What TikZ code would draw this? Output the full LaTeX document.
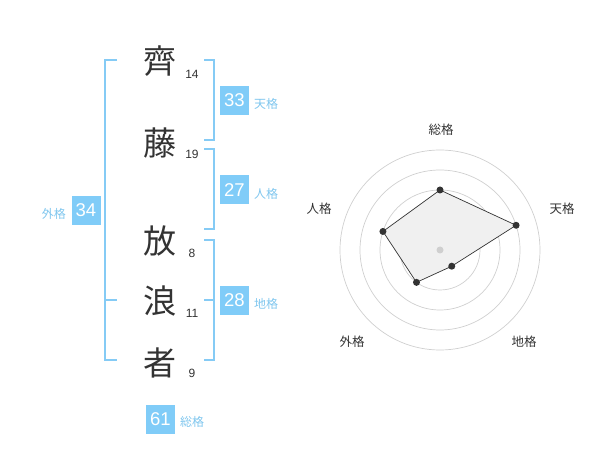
\documentclass[tikz,border=0pt]{standalone}
\usepackage{fontspec}
\setmainfont{Liberation Sans}
\newfontfamily\jp{Noto Sans CJK JP}
\definecolor{boxblue}{HTML}{80CCF8}
\definecolor{lblblue}{HTML}{7FC6EE}
\definecolor{brk}{HTML}{85CBF5}
\definecolor{ink}{HTML}{333333}
\definecolor{ring}{HTML}{CFCFCF}
\definecolor{area}{HTML}{F0F0F0}
\begin{document}
\begin{tikzpicture}[x=1pt,y=-1pt,
  kanji/.style={font=\jp\fontsize{33}{33}\selectfont, text=ink, inner sep=0pt},
  stroke/.style={font=\fontsize{12}{12}\selectfont, text=ink, inner sep=0pt},
  valbox/.style={fill=boxblue, text=white, minimum width=29pt, minimum height=29pt, inner sep=0pt, font=\fontsize{18.5}{18.5}\selectfont},
  kaku/.style={font=\jp\fontsize{12}{12}\selectfont, text=lblblue, inner sep=0pt},
  bracket/.style={draw=brk, line width=1.8pt},
  axislbl/.style={font=\jp\fontsize{12.5}{12.5}\selectfont, text=ink, inner sep=0pt},
  ringc/.style={draw=ring, line width=0.7pt},
  pt/.style={circle, fill=ink, inner sep=0pt, minimum size=7pt}
]
\useasboundingbox (0,0) rectangle (600,470);
% characters
\node[kanji] (c1) at (160,61) {齊};
\node[kanji] (c2) at (160,143) {藤};
\node[kanji] (c3) at (160,241) {放};
\node[kanji] (c4) at (160,301) {浪};
\node[kanji] (c5) at (160,363) {者};
\node[stroke] (n1) at (192,74) {14};
\node[stroke] (n2) at (192,154) {19};
\node[stroke] (n3) at (192,253) {8};
\node[stroke] (n4) at (192,313) {11};
\node[stroke] (n5) at (192,373) {9};
% brackets
\draw[bracket] (117,60) -- (105,60) -- (105,360) -- (117,360);
\draw[bracket] (105,300) -- (117,300);
\draw[bracket] (204,60) -- (214,60) -- (214,140) -- (204,140);
\draw[bracket] (204,149) -- (214,149) -- (214,229) -- (204,229);
\draw[bracket] (204,240) -- (214,240) -- (214,360) -- (204,360);
\draw[bracket] (214,300) -- (204,300);
% value boxes
\node[valbox] (ten) at (234.5,100.5) {33};
\node[kaku, anchor=west] (tenl) at (254,104) {天格};
\node[valbox] (jin) at (234.5,190) {27};
\node[kaku, anchor=west] (jinl) at (254,194) {人格};
\node[valbox] (chi) at (234.5,300.5) {28};
\node[kaku, anchor=west] (chil) at (254,304) {地格};
\node[valbox] (gai) at (86,210.5) {34};
\node[kaku, anchor=east] (gail) at (66,213.5) {外格};
\node[valbox] (sou) at (160.5,419) {61};
\node[kaku, anchor=west] (soul) at (180,422) {総格};
% radar
\coordinate (o) at (440,250);
\foreach \r in {20,40,60,80,100} \draw[ringc] (o) circle[radius=\r];
\path (o) ++(0,-60) coordinate (a1);
\path (o) ++({80*cos(18)},{-80*sin(18)}) coordinate (a2);
\path (o) ++({20*cos(54)},{20*sin(54)}) coordinate (a3);
\path (o) ++({-40*cos(54)},{40*sin(54)}) coordinate (a4);
\path (o) ++({-60*cos(18)},{-60*sin(18)}) coordinate (a5);
\draw[fill=area, draw=ink, line width=0.7pt] (a1) -- (a2) -- (a3) -- (a4) -- (a5) -- cycle;
\node[circle, fill=ring, inner sep=0pt, minimum size=7pt] (ctr) at (o) {};
\foreach \i in {1,...,5} \node[pt] (d\i) at (a\i) {};
\node[axislbl] (l1) at (441,130) {総格};
\node[axislbl] (l2) at (562,208.5) {天格};
\node[axislbl] (l3) at (524,342) {地格};
\node[axislbl] (l4) at (352,342) {外格};
\node[axislbl] (l5) at (319,209) {人格};
\end{tikzpicture}
\end{document}
